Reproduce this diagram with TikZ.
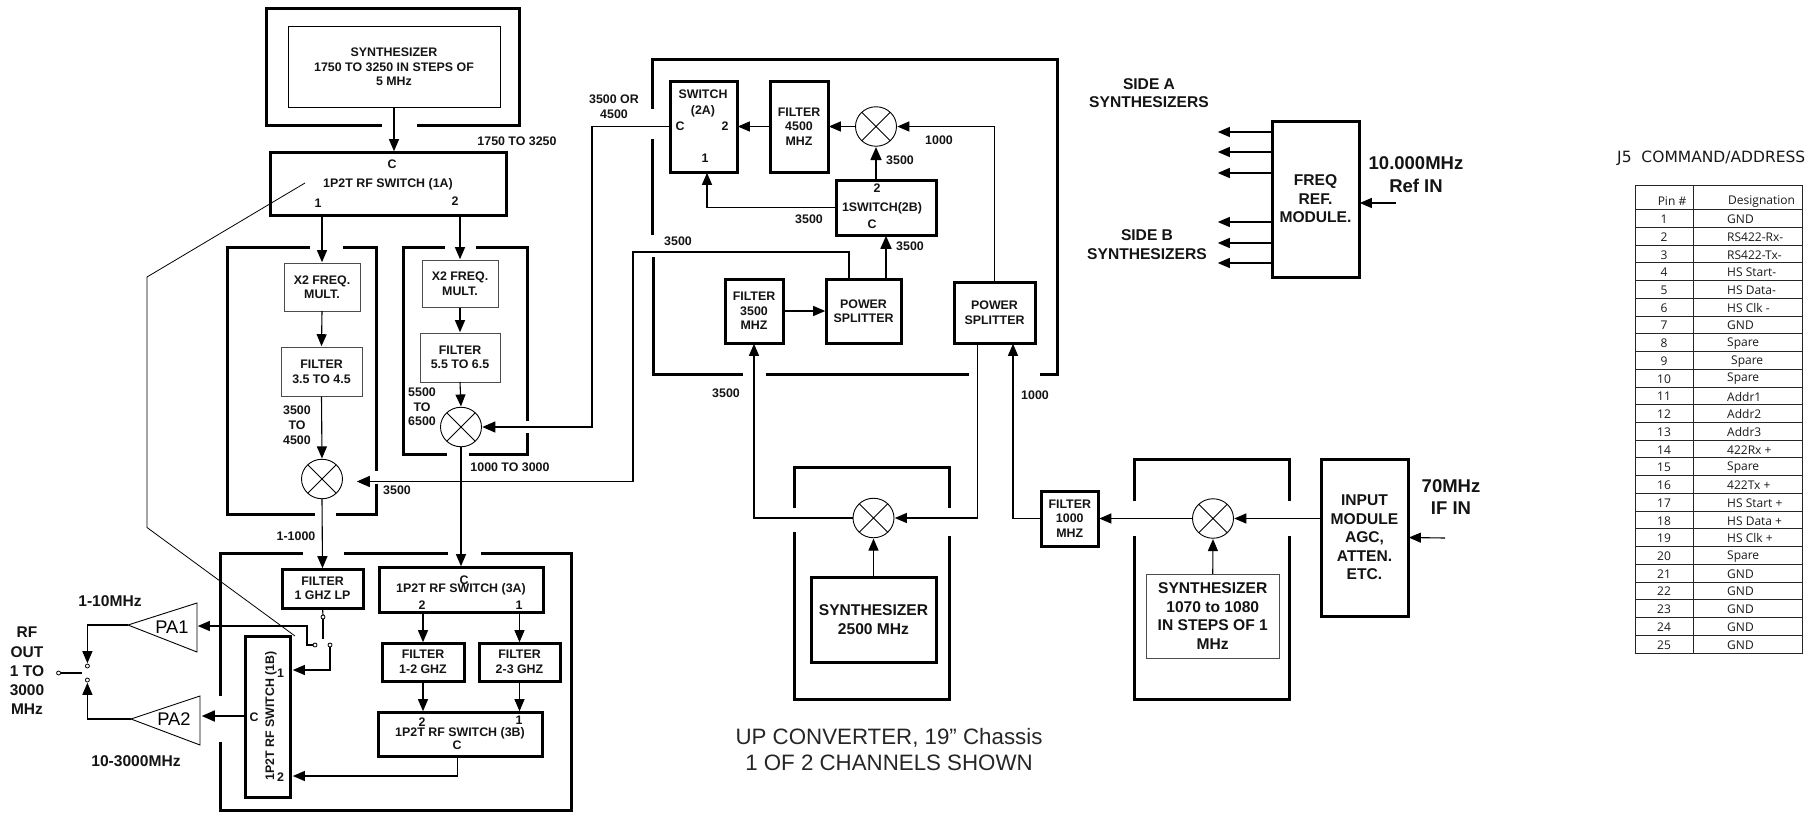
\documentclass[tikz,border=0pt]{standalone}
\usepackage{fontspec}
\setmainfont{Liberation Sans}
\newfontfamily\tblfont{Open Sans}
\newfontfamily\ttlfont{DejaVu Sans}
\usetikzlibrary{arrows.meta,shapes.geometric,calc}
\tikzset{
  txt/.style={font=\bfseries\fontsize{12.4}{14.5}\selectfont,inner sep=0pt,outer sep=0pt,align=center,text=black!92},
  txtb/.style={font=\bfseries\fontsize{15.6}{18.6}\selectfont,inner sep=0pt,outer sep=0pt,align=center,text=black!92},
  txtc/.style={font=\bfseries\fontsize{18.5}{22.5}\selectfont,inner sep=0pt,outer sep=0pt,align=center,text=black!92},
  medbox/.style={txt,draw,line width=3pt},
  thinbox/.style={txt,draw=black!70,line width=1pt},
  chassis/.style={draw,line width=3pt},
  conn/.style={line width=1.1pt},
  arr/.style={conn,-{Triangle[length=12pt,width=10pt]},shorten >=0.8pt},
  arrh/.style={line width=1.7pt,-{Triangle[length=13pt,width=11pt]},shorten >=0.8pt},
  mix/.style={ellipse,draw,line width=0.9pt,minimum width=41pt,minimum height=39.5pt,inner sep=0pt,outer sep=0pt},
  contact/.style={circle,draw,line width=0.8pt,minimum size=4pt,inner sep=0pt,outer sep=0pt},
  amp/.style={font=\fontsize{18.3}{20}\selectfont,inner sep=0pt},
  tline/.style={line width=1pt,draw=black!85},
  tcell/.style={font=\tblfont\fontsize{12}{14}\selectfont,inner sep=0pt,text=black!90}
}
\newcommand{\blk}[7]{\node[#1,minimum width={#5-#3},minimum height={#6-#4}] (#2) at ({(#3+#5)/2},{(#4+#6)/2}) {#7};}
\newcommand{\mixer}[3]{\node[mix] (#1) at (#2,#3) {};
  \draw[line width=0.9pt] (#1.45) -- (#1.225) (#1.135) -- (#1.315);}
\begin{document}
\begin{tikzpicture}[x=1pt,y=-1pt]
\useasboundingbox (0,0) rectangle (1813,814);

% frames
\draw[chassis] (382,125) -- (266,125) -- (266,8) -- (519,8) -- (519,125) -- (417,125);
\draw[chassis] (310,247) -- (227,247) -- (227,514.5) -- (315,514.5);
\draw[chassis] (343,247) -- (376,247) -- (376,471);
\draw[chassis] (376,484) -- (376,514.5) -- (336,514.5);
\draw[chassis] (445,247) -- (403,247) -- (403,454.5) -- (447,454.5);
\draw[chassis] (476,247) -- (527,247) -- (527,421);
\draw[chassis] (527,433) -- (527,454.5) -- (469,454.5);
\draw[chassis] (303,553) -- (220,553) -- (220,696);
\draw[chassis] (220,742) -- (220,810) -- (571,810) -- (571,553) -- (481,553);
\draw[chassis] (344,553) -- (447.5,553);
\draw[chassis] (652,109) -- (652,59) -- (1057,59) -- (1057,374) -- (1040,374);
\draw[chassis] (652,139) -- (652,235);
\draw[chassis] (653,257) -- (653,374) -- (743,374);
\draw[chassis] (766,374) -- (969,374);
\draw[chassis] (794,508) -- (794,467) -- (949.5,467) -- (949.5,508);
\draw[chassis] (794,532) -- (794,699) -- (949.5,699) -- (949.5,536);
\draw[chassis] (1134,501) -- (1134,459) -- (1289,459) -- (1289,501);
\draw[chassis] (1134,536) -- (1134,699) -- (1289,699) -- (1289,536);

% blocks
\blk{thinbox,draw=black}{synI}{288}{26}{500}{107.6}{SYNTHESIZER\\1750 TO 3250 IN STEPS OF\\5 MHz}
\blk{medbox}{swA}{270}{152}{506}{215}{}
\node[txt] (swAc) at (392,164) {C};
\node[txt] (swAt) at (388,184) {1P2T RF SWITCH (1A)};
\node[txt] (swA1) at (318,203) {1};
\node[txt] (swA2) at (455,201) {2};
\blk{thinbox}{xa}{284}{263}{360}{311}{X2 FREQ.\\MULT.}
\blk{thinbox}{fa}{281}{347}{362}{396.6}{FILTER\\3.5 TO 4.5}
\blk{thinbox}{xb}{422}{260}{498}{307.6}{X2 FREQ.\\MULT.}
\blk{thinbox}{fb}{420}{333}{500}{382}{FILTER\\5.5 TO 6.5}
\mixer{mixa}{322}{479}
\mixer{mixb}{461}{427}
\blk{medbox}{flp}{282}{569}{363}{608}{FILTER\\1 GHZ LP}
\blk{medbox}{swC}{379}{567}{543}{612}{}
\node[txt] (swCc) at (464,580) {C};
\node[txt] (swCt) at (461,589) {1P2T RF SWITCH (3A)};
\node[txt] (swC2) at (422,605) {2};
\node[txt] (swC1) at (519,605) {1};
\blk{medbox}{fc}{382}{643}{464}{681}{FILTER\\1-2 GHZ}
\blk{medbox}{fd}{479}{643}{560}{681}{FILTER\\2-3 GHZ}
\blk{medbox}{swD}{378}{712}{542.5}{756}{}
\node[txt] (swD2) at (422,722) {2};
\node[txt] (swD1) at (519,720) {1};
\node[txt] (swDt) at (460,733.5) {1P2T RF SWITCH (3B)};
\node[txt] (swDc) at (457,745) {C};
\blk{medbox}{swB}{245}{636}{290}{797}{}
\node[txt,rotate=90] (swBt) at (271,716) {1P2T RF SWITCH (1B)};
\node[txt] (swB1) at (280.5,673) {1};
\node[txt] (swB2) at (280.5,777) {2};
\node[txt] (swBc) at (254,717) {C};

\blk{medbox}{swE}{670}{81}{737}{172}{}
\node[txt] (swEt) at (703,103) {SWITCH\\[1.5pt](2A)};
\node[txt] (swEc) at (680,126) {C};
\node[txt] (swE2) at (725,126) {2};
\node[txt] (swE1) at (705,158) {1};
\blk{medbox}{fe}{770}{81}{828}{172}{FILTER\\4500\\MHZ}
\mixer{mixc}{876}{126.5}
\blk{medbox}{swF}{836}{180}{936}{235}{}
\node[txt] (swF2) at (877,188) {2};
\node[txt] (swFt) at (882,208) {1SWITCH(2B)};
\node[txt] (swFc) at (872,224) {C};
\blk{medbox}{ff}{725}{279}{783}{343}{FILTER\\3500\\MHZ}
\blk{medbox}{psa}{826}{279}{901}{343}{POWER\\SPLITTER}
\blk{medbox}{psb}{954}{282}{1035}{343}{POWER\\SPLITTER}
\mixer{mixd}{873.5}{518}
\blk{medbox,txtb}{synb}{811}{577}{936}{662}{SYNTHESIZER\\2500 MHz}
\blk{medbox}{fg}{1041}{491}{1098.5}{546}{FILTER\\1000\\MHZ}
\mixer{mixe}{1213}{518.5}
\blk{thinbox,txtb}{sync}{1146.5}{574}{1279}{658}{SYNTHESIZER\\1070 to 1080\\IN STEPS OF 1\\MHz}
\blk{medbox,txtb}{inp}{1321}{459}{1408}{616}{INPUT\\MODULE\\AGC,\\ATTEN.\\ETC.}
\blk{medbox,txtb}{frq}{1272}{121}{1359}{277}{FREQ\\REF.\\MODULE.}

% amplifiers
\coordinate (paoa) at (128,625);
\coordinate (paob) at (197,603);
\coordinate (paoc) at (197,652);
\coordinate (paoi) at (197,626);
\draw[line width=0.9pt] (paoa) -- (paob) -- (paoc) -- cycle;
\node[amp] (paot) at (172,627) {PA1};
\coordinate (pata) at (131,719);
\coordinate (patb) at (200,696);
\coordinate (patc) at (200,745);
\coordinate (pati) at (201,716);
\draw[line width=0.9pt] (pata) -- (patb) -- (patc) -- cycle;
\node[amp] (patt) at (174,719) {PA2};

% contacts
\node[contact] (c0) at (323,617) {};
\node[contact] (c1) at (315,645) {};
\node[contact] (c2) at (330,645) {};
\coordinate (c0e) at (323,639);
\node[contact] (oa) at (87.4,666) {};
\node[contact] (ob) at (87.4,680) {};
\node[contact] (oo) at (58.6,673) {};
\coordinate (ooe) at (82,673);

% labels
\node[txt] (l1750) at (517,141) {1750 TO 3250};
\node[txt] (l3500a) at (297,425) {3500\\[0.5pt]TO\\4500};
\node[txt] (l5500) at (422,407) {5500\\[0.4pt]TO\\6500};
\node[txt] (l1000a) at (510,467) {1000 TO 3000};
\node[txt] (l3500b) at (397,490) {3500};
\node[txt] (l1to) at (296,536) {1-1000};
\node[txt] (l35or) at (614,106.5) {3500 OR\\4500};
\node[txt] (l1000b) at (939,140) {1000};
\node[txt] (l3500c) at (900,160) {3500};
\node[txt] (l3500d) at (809,219) {3500};
\node[txt] (l3500e) at (910,246) {3500};
\node[txt] (l3500f) at (678,241) {3500};
\node[txt] (l3500g) at (726,393) {3500};
\node[txt] (l1000c) at (1035,395) {1000};
\node[txt,font=\bfseries\fontsize{15.5}{19.2}\selectfont] (lrf) at (27,671) {RF\\OUT\\1 TO\\3000\\MHz};
\node[txt,font=\bfseries\fontsize{15.6}{18}\selectfont] (lpa1) at (110,601) {1-10MHz};
\node[txt,font=\bfseries\fontsize{15.6}{18}\selectfont] (lpa2) at (136,761) {10-3000MHz};
\node[txtb] (lsa) at (1149,93) {SIDE A\\SYNTHESIZERS};
\node[txtb] (lsb) at (1147,244.5) {SIDE B\\SYNTHESIZERS};
\node[txtc] (lref) at (1416,174.5) {10.000MHz\\Ref IN};
\node[txtc] (lif) at (1451,497) {70MHz\\IF IN};
\node[align=center,inner sep=0pt,font=\fontsize{22.3}{26}\selectfont,text=black!85] (lup) at (889,750) {UP CONVERTER, 19" Chassis\\1 OF 2 CHANNELS SHOWN};

% connectors, left part
\draw[arr] (synI.south) -- (synI.south |- swA.north);
\draw[arr] (swA.south -| xa.north) -- (xa.north);
\draw[arr] (xa.south) -- (fa.north);
\draw[arr] (fa.south) -- (mixa.north);
\draw[arr] (mixa.south) -- (flp.north);
\draw[arr] (swA.south -| xb.north) -- (xb.north);
\draw[arr] (xb.south) -- (fb.north);
\draw[arr] (fb.south) -- (mixb.north);
\draw[arr] (mixb.south) -- (mixb.south |- swC.north);
\draw[arr] (swC.south -| fc.north) -- (fc.north);
\draw[arr] (swC.south -| fd.north) -- (fd.north);
\draw[arr] (fc.south) -- (fc.south |- swD.north);
\draw[arr] (fd.south) -- (fd.south |- swD.north);
\coordinate (pbt) at (292,670);
\coordinate (pbb) at (292,776);
\draw[arr] ([xshift=-3pt]swD.south) |- (pbb);
\draw[conn] (flp.south) -- (c0.north);
\draw[conn] (c0.south) -- (c0e);
\coordinate (kn) at (307,626);
\draw[arr] (c1.west) -| (kn) -- (paoi);
\draw[arr] (c2.south) |- (pbt);
\draw[arrh] (swB.west |- pati) -- (pati);
\draw[arr] (paoa) -| (oa.north);
\draw[arr] (pata) -| (ob.south);
\draw[conn] (oo.east) -- (ooe);
\coordinate (ta) at (305,183);
\coordinate (tb) at (147,277);
\coordinate (tc) at (147,527.5);
\coordinate (td) at (295,636);
\draw[line width=0.8pt] (ta) -- (tb) -- (tc) -- (td);

% connectors, up converter
\coordinate (busa) at (592,0);
\draw[arrh,line width=1.2pt] (swE.west) -- (swE.west -| busa) |- (mixb.east);
\draw[arr] (fe.west) -- (swE.east);
\draw[arr] (mixc.west) -- (fe.east);
\draw[arr] (psb.north) |- (mixc.east);
\draw[arrh] (swF.north -| mixc.south) -- (mixc.south);
\draw[arr] (swF.west) -| ([xshift=3.5pt]swE.south);
\draw[arrh] (swF.south |- psa.north) -- (swF.south);
\coordinate (busb) at (633,252);
\coordinate (mixain) at (356,481.5);
\draw[arrh,line width=1.4pt] ([xshift=-14.5pt]psa.north) |- (busb) |- (mixain);
\draw[arr] (ff.east) -- (psa.west);
\draw[arr] (mixd.west) -| (ff.south);
\draw[arr] ([xshift=-17pt]psb.south) |- (mixd.east);
\draw[arr] (fg.west) -| ([xshift=18.5pt]psb.south);
\draw[arr] (mixe.west) -- (fg.east);
\draw[arr] (inp.west |- mixe.east) -- (mixe.east);
\draw[arr] (synb.north) -- (mixd.south);
\draw[arr] (sync.north) -- (mixe.south);
\coordinate (ifin) at (1445,538);
\draw[arr] (ifin) -- (inp.east);
\coordinate (refin) at (1396,203);
\draw[arr] (refin) -- (frq.east |- refin);
\foreach \yy in {132,152,173,222,243,263}{
  \coordinate (sy\yy) at (1217,\yy);
  \draw[arr] (frq.west |- sy\yy) -- (sy\yy);
}

% table
\node[font=\ttlfont\fontsize{15.5}{18}\selectfont,inner sep=0pt,anchor=west,text=black!90] (jt) at (1617,158) {J5\ \ COMMAND/ADDRESS};
\draw[tline] (1635,185) rectangle (1802.5,653);
\draw[tline] (1693,185) -- (1693,653);
\foreach \i in {0,...,24}{
  \draw[tline] (1635,{209.7+\i*17.73}) -- (1802.5,{209.7+\i*17.73});
}
\node[tcell] (hp) at (1672,201.5) {Pin \#};
\node[tcell,anchor=west] (hd) at (1728,201.5) {Designation};
\foreach \i/\d in {1/GND,2/RS422-Rx-,3/RS422-Tx-,4/HS Start-,5/HS Data-,6/HS Clk -,7/GND,8/Spare,9/\hspace{4pt}Spare,10/Spare,11/Addr1,12/Addr2,13/Addr3,14/422Rx +,15/Spare,16/422Tx +,17/HS Start +,18/HS Data +,19/HS Clk +,20/Spare,21/GND,22/GND,23/GND,24/GND,25/GND}{
  \node[tcell] (pin\i) at (1664,{219.3+(\i-1)*17.73}) {\i};
  \node[tcell,anchor=west] (des\i) at (1727,{219.3+(\i-1)*17.73}) {\d};
}
\end{tikzpicture}
\end{document}
